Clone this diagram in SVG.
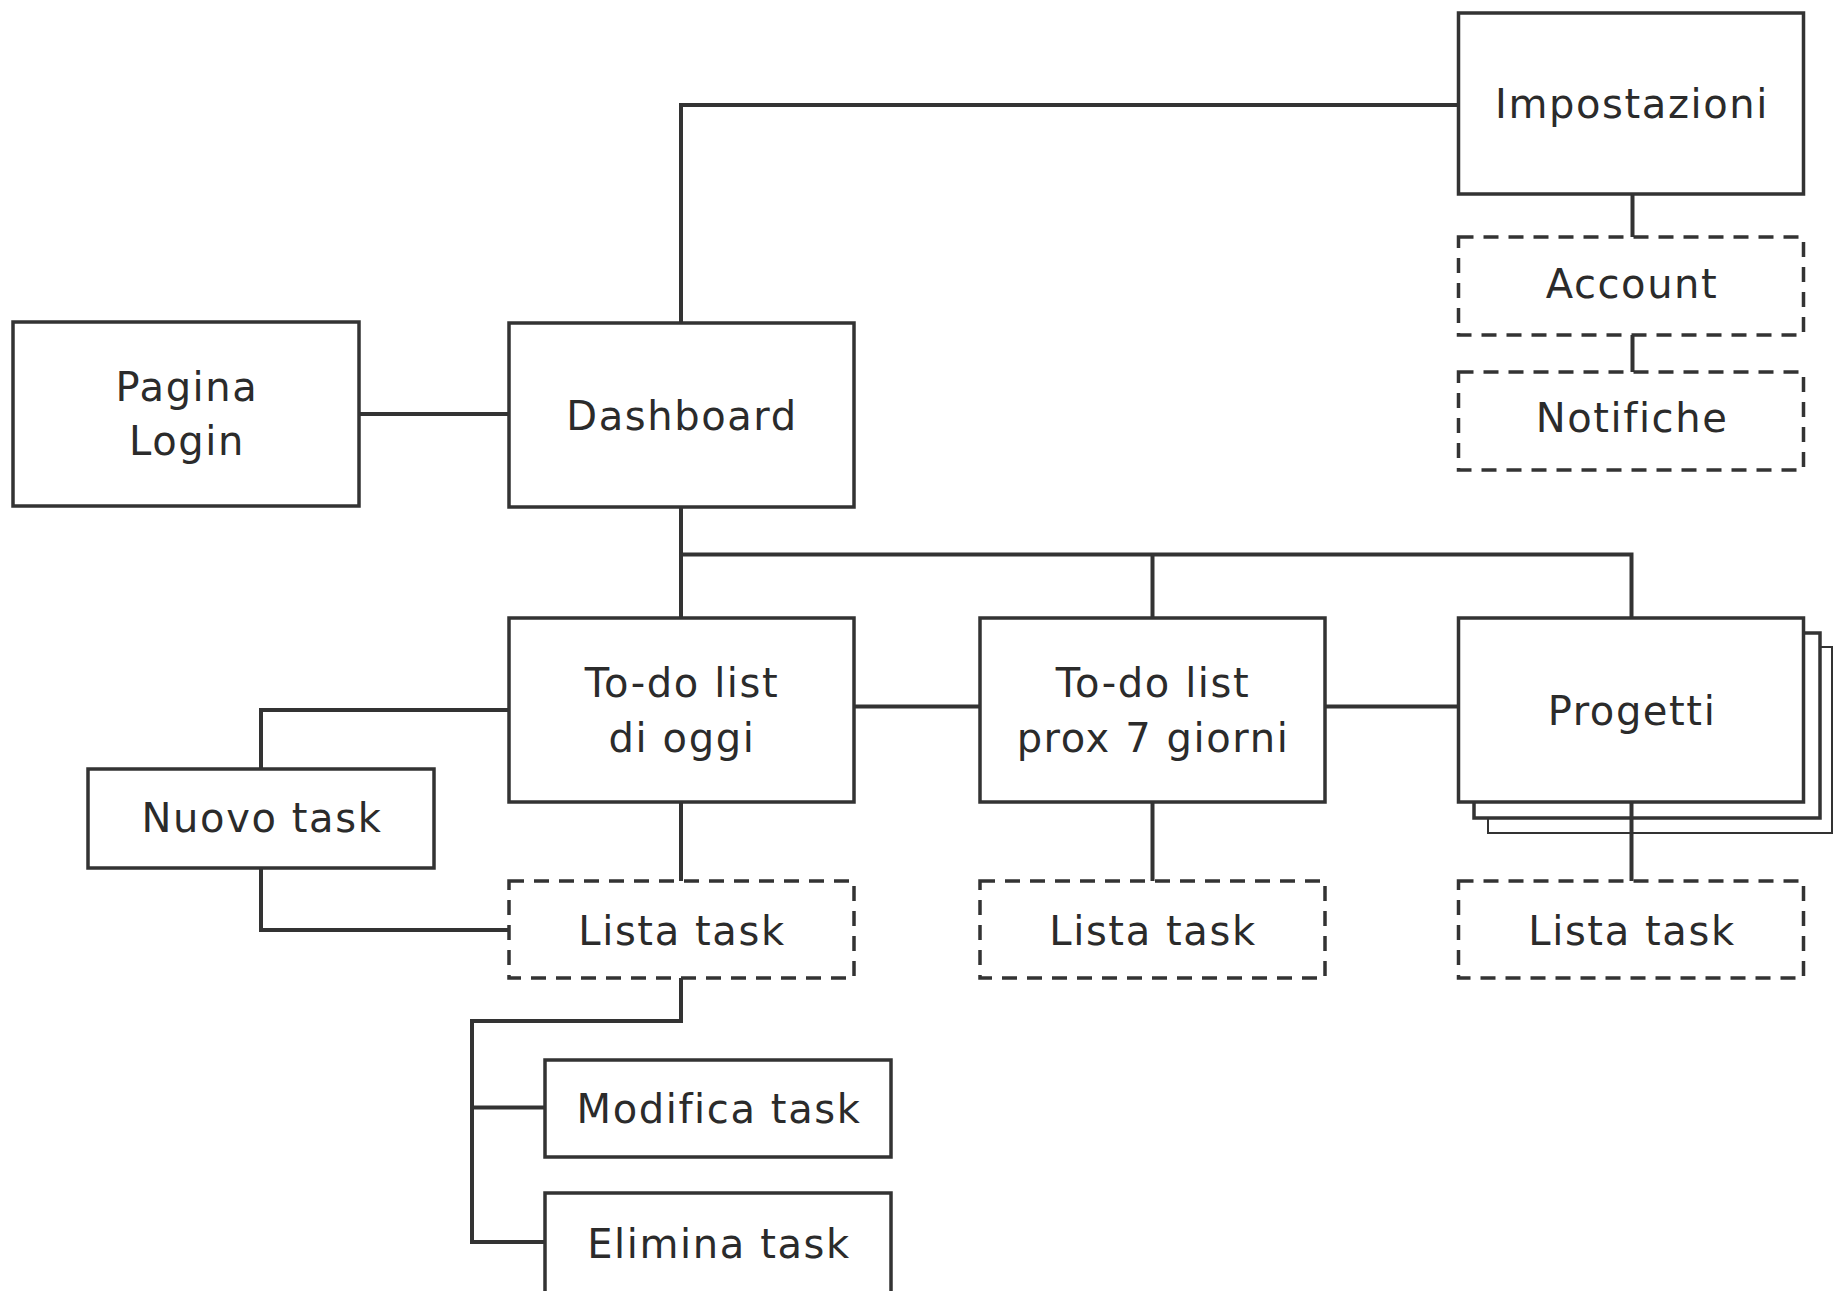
<svg xmlns="http://www.w3.org/2000/svg" width="1834" height="1291" viewBox="0 0 1834 1291">
<style>
.box{fill:#fff;stroke:#333;stroke-width:3.5}
.dash{fill:#fff;stroke:#333;stroke-width:3.5;stroke-dasharray:15 10}
.thin{fill:#fff;stroke:#333;stroke-width:2}
.lbl{font-family:"DejaVu Sans",sans-serif;font-size:40px;letter-spacing:1.6px;fill:#2b2b2b;text-anchor:middle}
.con{fill:none;stroke:#333;stroke-width:4}
</style>
<rect width="1834" height="1291" fill="#fff"/>
<g id="connectors">
<path class="con" d="M359 414H509"/>
<path class="con" d="M681 323V105H1459"/>
<path class="con" d="M681 506V618"/>
<path class="con" d="M681 554.5H1631.5V618"/>
<path class="con" d="M1152.5 554.5V618"/>
<path class="con" d="M854 706.5H980"/>
<path class="con" d="M1325 706.5H1459"/>
<path class="con" d="M509 710H261V769"/>
<path class="con" d="M261 868V930H509"/>
<path class="con" d="M681 802V881"/>
<path class="con" d="M1152.5 802V881"/>
<path class="con" d="M681 978V1021H472V1242H545"/>
<path class="con" d="M472 1107.5H545"/>
<path class="con" d="M1632.5 194V237"/>
<path class="con" d="M1632.5 335V372"/>
</g>
<g id="pagina-login">
<rect class="box" x="13" y="322" width="346" height="184"/>
<text class="lbl" x="187" y="401">Pagina</text>
<text class="lbl" x="187" y="455">Login</text>
</g>
<g id="dashboard">
<rect class="box" x="509" y="323" width="345" height="184"/>
<text class="lbl" x="682" y="430">Dashboard</text>
</g>
<g id="impostazioni">
<rect class="box" x="1458.5" y="13" width="345" height="181"/>
<text class="lbl" x="1632" y="118">Impostazioni</text>
</g>
<g id="account">
<rect class="dash" x="1458.5" y="237" width="345" height="98"/>
<text class="lbl" x="1632" y="298">Account</text>
</g>
<g id="notifiche">
<rect class="dash" x="1458.5" y="372" width="345" height="98"/>
<text class="lbl" x="1632" y="432">Notifiche</text>
</g>
<g id="todo-oggi">
<rect class="box" x="509" y="618" width="345" height="184"/>
<text class="lbl" x="682" y="697">To-do list</text>
<text class="lbl" x="682" y="752">di oggi</text>
</g>
<g id="todo-prox">
<rect class="box" x="980" y="618" width="345" height="184"/>
<text class="lbl" x="1153" y="697">To-do list</text>
<text class="lbl" x="1153" y="752">prox 7 giorni</text>
</g>
<g id="progetti">
<rect class="thin" x="1488" y="647" width="344" height="186"/>
<rect class="box" x="1474" y="633" width="346" height="185"/>
<rect class="box" x="1458.5" y="618" width="345" height="184"/>
<text class="lbl" x="1632" y="725">Progetti</text>
</g>
<path class="con" d="M1631.5 802V881"/>
<g id="nuovo-task">
<rect class="box" x="88" y="769" width="346" height="99"/>
<text class="lbl" x="262" y="832">Nuovo task</text>
</g>
<g id="lista-oggi">
<rect class="dash" x="509" y="881" width="345" height="97"/>
<text class="lbl" x="682" y="945">Lista task</text>
</g>
<g id="lista-prox">
<rect class="dash" x="980" y="881" width="345" height="97"/>
<text class="lbl" x="1153" y="945">Lista task</text>
</g>
<g id="lista-progetti">
<rect class="dash" x="1458.5" y="881" width="345" height="97"/>
<text class="lbl" x="1632" y="945">Lista task</text>
</g>
<g id="modifica-task">
<rect class="box" x="545" y="1060" width="346" height="97"/>
<text class="lbl" x="719" y="1123">Modifica task</text>
</g>
<g id="elimina-task">
<rect class="box" x="545" y="1193" width="346" height="102"/>
<text class="lbl" x="719" y="1258">Elimina task</text>
</g>
</svg>
